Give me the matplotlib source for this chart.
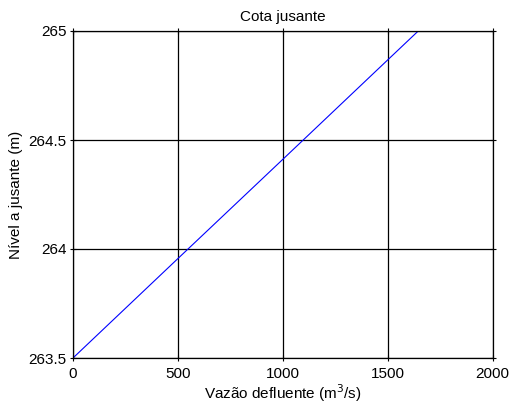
import matplotlib
matplotlib.use("Agg")
import matplotlib.pyplot as plt

vazao = [0, 500, 1000, 1500, 1646]
nivel = [263.5, 263.956, 264.411, 264.867, 265.0]
xticks = [0, 500, 1000, 1500, 2000]
yticks = [263.5, 264, 264.5, 265]
yticklabels = ["263.5", "264", "264.5", "265"]

plt.rcParams['font.family'] = ['Liberation Sans', 'DejaVu Sans']
plt.rcParams['font.size'] = 11

fig = plt.figure(figsize=(5.09, 4.04), dpi=100)
ax = fig.add_axes([73/509, 1 - 358/404, (492.5 - 73)/509, (358 - 31)/404])
ax.plot(vazao, nivel, color='#0000ff', linewidth=0.8)
ax.set_xlim(0, 2000)
ax.set_ylim(263.5, 265)
ax.set_xticks(xticks)
ax.set_xticklabels([str(t) for t in xticks])
ax.set_yticks(yticks)
ax.set_yticklabels(yticklabels)
ax.grid(True, color='black', linewidth=0.9, linestyle='-')
ax.set_axisbelow(True)
for s in ax.spines.values():
    s.set_linewidth(0.9)
ax.tick_params(direction='inout', length=4, width=0.8, top=True, right=True,
               labeltop=False, labelright=False, labelsize=11)
ax.tick_params(axis='x', pad=4.5)
ax.tick_params(axis='y', pad=2.5)
ax.set_title("Cota jusante", fontsize=11, pad=7.5)
ax.set_xlabel("Vazão defluente (m$^3$/s)", fontsize=11, labelpad=1)
ax.set_ylabel("Nível a jusante (m)", fontsize=11, labelpad=4)
fig.savefig("out.png", dpi=100)
